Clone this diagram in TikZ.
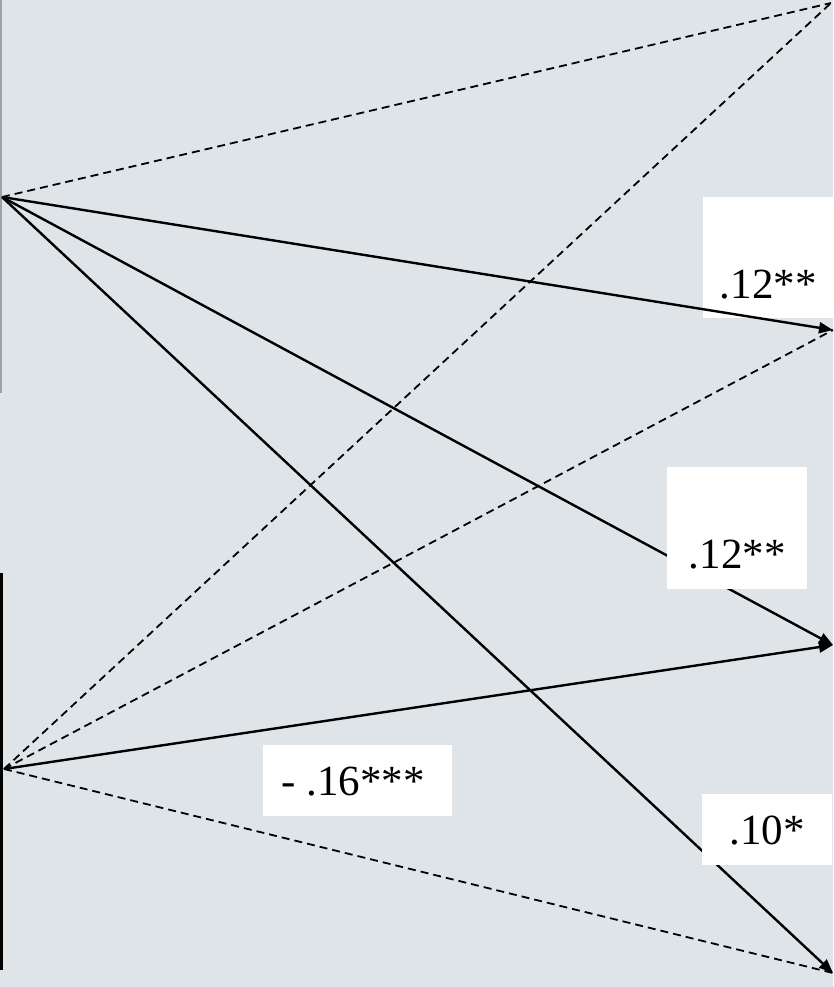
\documentclass[tikz,border=0pt]{standalone}
\usepackage{fontspec}
\setmainfont{Liberation Serif}
\usetikzlibrary{arrows.meta}
\definecolor{bgc}{HTML}{DFE4E8}
\definecolor{edgegray}{HTML}{9EA0A3}
\tikzset{
  x=1pt, y=-1pt,
  solidpath/.style={line width=2.4pt, draw=black, -{Triangle[length=14pt,width=11pt]}},
  dashpath/.style={line width=1.8pt, draw=black, dash pattern=on 8pt off 5pt},
  starttip/.style={{Latex[length=5pt,width=5pt]}-{Triangle[length=14pt,width=11pt]}},
  labelbox/.style={fill=white, draw=none, inner sep=0pt, anchor=north west,
    font=\fontsize{43}{48}\selectfont}
}
\begin{document}
\begin{tikzpicture}
\useasboundingbox (0,0) rectangle (833,987);
\fill[bgc] (0,0) rectangle (833,987);
% edges of the source boxes
\draw[edgegray, line width=1.5pt] (0.75,0) -- (0.75,393);
\draw[black, line width=3pt] (1.5,573) -- (1.5,970);
% sources and targets
\coordinate (A) at (2,197);
\coordinate (B) at (4,769);
\coordinate (T1) at (831,3);
\coordinate (T2) at (833,330);
\coordinate (T3) at (833,645);
\coordinate (T4) at (833,973);
% label lying under its path
\node[labelbox, minimum width=130pt, text height=101pt, text depth=20pt] (l1) at (703,197) {.12**};
% dashed paths
\draw[dashpath] (A) -- (T1);
\draw[dashpath] (B) -- (T1);
\draw[dashpath] (B) -- (T2);
\draw[dashpath] (B) -- (T4);
% solid paths
\draw[solidpath, starttip] (A) -- (T2);
\draw[solidpath] (A) -- (T3);
\draw[solidpath] (A) -- (T4);
\draw[solidpath, starttip] (B) -- (T3);
% labels lying over their paths
\node[labelbox, minimum width=140pt, text height=101pt, text depth=21pt] (l2) at (667,467) {.12**};
\node[labelbox, minimum width=130pt, text height=50pt, text depth=21pt] (l3) at (702,794) {.10*};
\node[labelbox, minimum width=189pt, text height=50pt, text depth=21pt] (l4) at (263,745) {- .16***\kern9pt};
\end{tikzpicture}
\end{document}
